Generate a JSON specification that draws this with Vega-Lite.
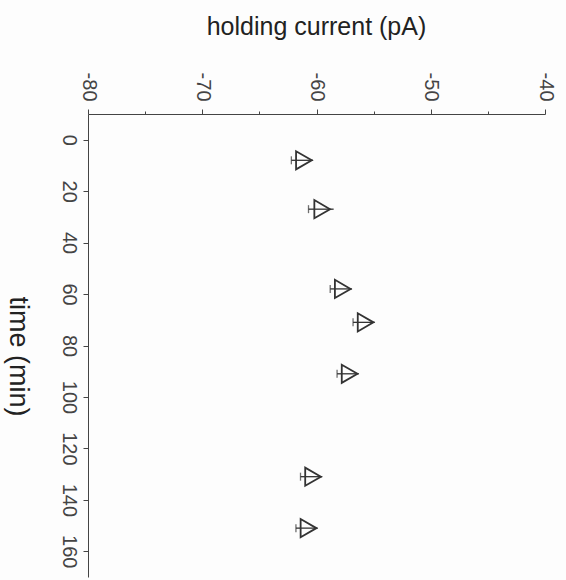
{
  "$schema": "https://vega.github.io/schema/vega-lite/v6.json",
  "width": 457,
  "height": 463,
  "autosize": {"type": "none"},
  "padding": {"left": 88, "top": 114, "right": 21, "bottom": 3},
  "background": "#fdfdfd",
  "config": {
    "view": {"stroke": null},
    "font": "Liberation Sans",
    "axis": {"grid": false, "domainColor": "#444", "tickColor": "#444", "labelColor": "#444", "labelFontSize": 20, "titleFontSize": 25, "titleFontWeight": "normal", "titleColor": "#222", "labelFont": "Liberation Sans", "titleFont": "Liberation Sans"}
  },
  "data": {
    "values": [
      {"time": 8, "current": -61.1, "lo": -62.2, "hi": -60.3},
      {"time": 27, "current": -59.5, "lo": -60.7, "hi": -58.5},
      {"time": 58, "current": -57.7, "lo": -58.8, "hi": -56.9},
      {"time": 71, "current": -55.7, "lo": -56.8, "hi": -54.9},
      {"time": 91, "current": -57.1, "lo": -58.2, "hi": -56.3},
      {"time": 131, "current": -60.3, "lo": -61.4, "hi": -59.5},
      {"time": 151, "current": -60.7, "lo": -61.8, "hi": -59.9}
    ]
  },
  "layer": [
    {
      "mark": {"type": "rule", "color": "#333", "strokeWidth": 1.3},
      "encoding": {
        "x": {"field": "lo", "type": "quantitative", "scale": {"domain": [-80, -40], "nice": false, "zero": false},
          "axis": {"orient": "top", "title": "holding current (pA)", "titleX": 228, "titleY": -80, "titleAlign": "center", "titleBaseline": "alphabetic", "values": [-80,-75,-70,-65,-60,-55,-50,-45,-40], "labelExpr": "datum.value % 10 === 0 ? '' + datum.value : ''", "labelAngle": 90, "labelPadding": 8, "tickSize": {"expr": "datum.value % 10 === 0 ? 5 : 3"}}},
        "x2": {"field": "hi"},
        "y": {"field": "time", "type": "quantitative", "scale": {"domain": [-10, 170], "nice": false, "zero": false, "reverse": true},
          "axis": {"orient": "left", "title": "time (min)", "titleFontSize": 27, "titleAngle": 90, "titleX": -71, "titleY": 242, "titleAlign": "center", "titleBaseline": "middle", "values": [0,10,20,30,40,50,60,70,80,90,100,110,120,130,140,150,160,170], "labelExpr": "datum.value % 20 === 0 ? '' + datum.value : ''", "labelAngle": 90, "labelPadding": 5, "tickSize": {"expr": "datum.value % 20 === 0 ? 5 : 3"}}}
      }
    },
    {
      "mark": {"type": "tick", "orient": "vertical", "color": "#333", "size": 8, "thickness": 1.3},
      "encoding": {
        "x": {"field": "lo", "type": "quantitative"},
        "y": {"field": "time", "type": "quantitative"}
      }
    },
    {
      "mark": {"type": "point", "shape": "triangle-right", "filled": false, "stroke": "#333", "strokeWidth": 1.8, "size": 330, "opacity": 1},
      "encoding": {
        "x": {"field": "current", "type": "quantitative"},
        "y": {"field": "time", "type": "quantitative"}
      }
    }
  ]
}
